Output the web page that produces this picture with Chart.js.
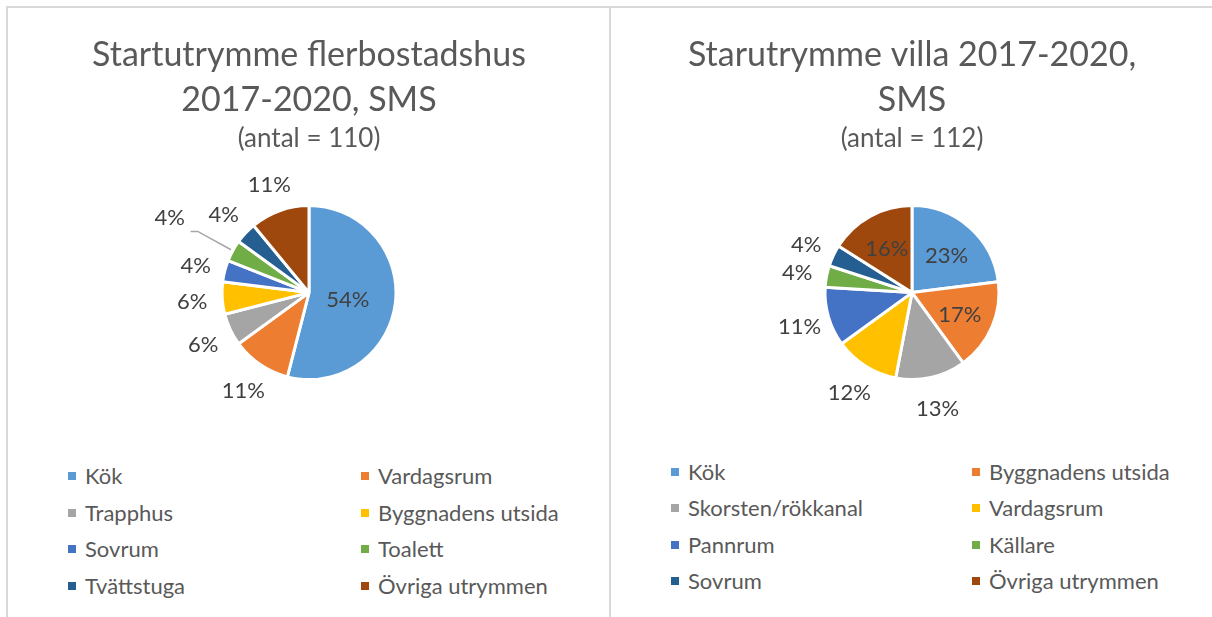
<!DOCTYPE html>
<html lang="sv">
<head>
<meta charset="utf-8">
<title>Startutrymme flerbostadshus och villa 2017-2020</title>
<script src="https://cdn.jsdelivr.net/npm/chart.js@4.4.1/dist/chart.umd.min.js"></script>
<style>
    body { margin: 0; background: #fff; width: 1212px; height: 617px; overflow: hidden; position: relative; font-family: Lato, 'Open Sans', sans-serif; }
    .linje { position: absolute; background: #d9d9d9; }
    canvas { position: absolute; top: 0; }
    .legend-post { position: absolute; color: #595959; font-size: 22px; line-height: 26px; white-space: nowrap; }
    .legend-ruta { position: absolute; left: 0; top: 9px; width: 8px; height: 8px; }
    .legend-post span { position: absolute; left: 17px; top: 0; }
</style>
</head>
<body>
<div class="linje" style="left:6px; top:6px; width:1206px; height:2px;"></div>
<div class="linje" style="left:6px; top:6px; width:2px; height:611px;"></div>
<div class="linje" style="left:609px; top:6px; width:2px; height:611px;"></div>

<canvas id="graf-flerbostadshus" width="600" height="440" style="left:9px;"></canvas>
<canvas id="graf-villa" width="600" height="440" style="left:612px;"></canvas>
<div id="legend-flerbostadshus"></div>
<div id="legend-villa"></div>

<script>
// Flerbostadshus (antal = 110)
const kategorierFlerbostadshus = ['Kök', 'Vardagsrum', 'Trapphus', 'Byggnadens utsida', 'Sovrum', 'Toalett', 'Tvättstuga', 'Övriga utrymmen'];
const andelarFlerbostadshus = [54, 11, 6, 6, 4, 4, 4, 11];

// Villa (antal = 112)
const kategorierVilla = ['Kök', 'Byggnadens utsida', 'Skorsten/rökkanal', 'Vardagsrum', 'Pannrum', 'Källare', 'Sovrum', 'Övriga utrymmen'];
const andelarVilla = [23, 17, 13, 12, 11, 4, 4, 16];

const farger = ['#5B9BD5', '#ED7D31', '#A5A5A5', '#FFC000', '#4472C4', '#70AD47', '#255E91', '#9E480E'];

// procentetiketter, inne i tårtbiten eller utanför
const procentEtiketter = {
    id: 'procentEtiketter',
    afterDatasetsDraw(chart, args, opts) {
        const ctx = chart.ctx;
        const meta = chart.getDatasetMeta(0);
        const varden = chart.data.datasets[0].data;
        ctx.save();
        ctx.font = '22px Lato, "Open Sans", sans-serif';
        ctx.fillStyle = '#404040';
        ctx.textAlign = 'center';
        ctx.textBaseline = 'middle';
        meta.data.forEach((bit, i) => {
            const { x, y, startAngle, endAngle, outerRadius } = bit.getProps(['x', 'y', 'startAngle', 'endAngle', 'outerRadius'], true);
            const mitt = (startAngle + endAngle) / 2;
            let avstand = opts.inne[i] ? outerRadius * opts.inneAndel : outerRadius + 30;
            if (opts.linje === i) {
                avstand = outerRadius + 72;
                const kx = x + Math.cos(mitt) * (outerRadius + 40);
                const ky = y + Math.sin(mitt) * (outerRadius + 40);
                const tx = x + Math.cos(mitt) * avstand;
                ctx.strokeStyle = '#a6a6a6';
                ctx.lineWidth = 1.5;
                ctx.beginPath();
                ctx.moveTo(x + Math.cos(mitt) * (outerRadius + 2), y + Math.sin(mitt) * (outerRadius + 2));
                ctx.lineTo(kx, ky);
                ctx.lineTo(tx + 21, ky);
                ctx.stroke();
            }
            ctx.fillText(varden[i] + '%', x + Math.cos(mitt) * avstand, y + Math.sin(mitt) * avstand + 2);
        });
        ctx.restore();
    }
};

function skapaTarta(id, kategorier, andelar, rubrik, antal, inne, inneAndel, linje) {
    return new Chart(document.getElementById(id), {
        type: 'pie',
        data: {
            labels: kategorier,
            datasets: [{
                data: andelar,
                backgroundColor: farger,
                borderColor: '#ffffff',
                borderWidth: 3
            }]
        },
        options: {
            responsive: false,
            animation: false,
            radius: 87,
            layout: { padding: { bottom: 9 } },
            plugins: {
                legend: { display: false },
                tooltip: { enabled: false },
                title: {
                    display: true,
                    text: rubrik,
                    color: '#595959',
                    font: { family: 'Lato', size: 34, weight: 'normal', lineHeight: 45 / 34 },
                    padding: { top: 33, bottom: 0 }
                },
                subtitle: {
                    display: true,
                    text: '(antal = ' + antal + ')',
                    color: '#595959',
                    font: { family: 'Lato', size: 26, weight: 'normal', lineHeight: 1.2 },
                    padding: { top: 0, bottom: 0 }
                },
                procentEtiketter: { inne: inne, inneAndel: inneAndel, linje: linje }
            }
        },
        plugins: [procentEtiketter]
    });
}

skapaTarta('graf-flerbostadshus', kategorierFlerbostadshus, andelarFlerbostadshus,
    ['Startutrymme flerbostadshus', '2017-2020, SMS'], 110,
    [true, false, false, false, false, false, false, false], 0.45, 5);

skapaTarta('graf-villa', kategorierVilla, andelarVilla,
    ['Starutrymme villa 2017-2020,', 'SMS'], 112,
    [true, true, false, false, false, false, false, true], 0.6, -1);

function byggLegend(id, kategorier, kolumner, rader) {
    const behallare = document.getElementById(id);
    kategorier.forEach((namn, i) => {
        const post = document.createElement('div');
        post.className = 'legend-post';
        post.style.left = kolumner[i % 2] + 'px';
        post.style.top = (rader[Math.floor(i / 2)] - 13) + 'px';
        post.innerHTML = '<div class="legend-ruta" style="background:' + farger[i] + '"></div><span>' + namn + '</span>';
        behallare.appendChild(post);
    });
}

byggLegend('legend-flerbostadshus', kategorierFlerbostadshus, [68, 361], [476, 513, 549, 586]);
byggLegend('legend-villa', kategorierVilla, [671, 972], [472, 508, 545, 581]);
</script>
</body>
</html>
